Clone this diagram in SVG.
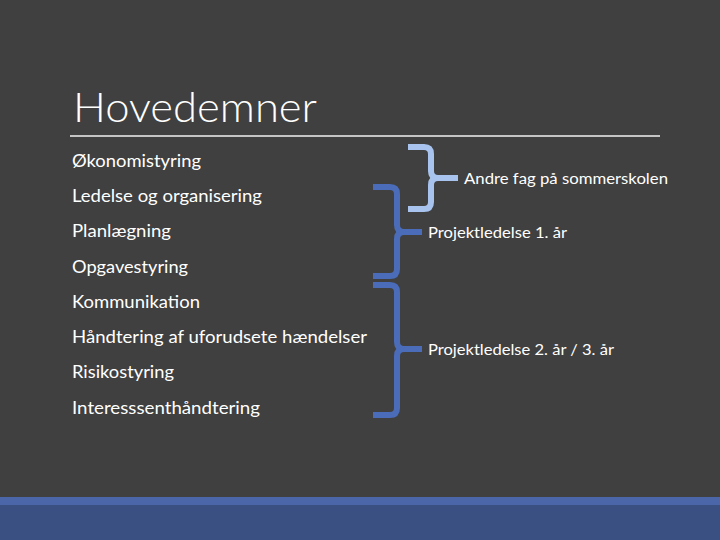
<svg xmlns="http://www.w3.org/2000/svg" width="720" height="540" viewBox="0 0 720 540">
<style>
.t{font-family:Lato,"Open Sans","Liberation Sans",sans-serif;fill:#ffffff}
.item{font-size:18px}
.lbl{font-size:15.5px}
.br{fill:none;stroke-width:6;stroke-linejoin:round;stroke-linecap:butt}
.light{stroke:#a8c4ee}
.dark{stroke:#4a6cb9}
</style>
<rect width="720" height="540" fill="#404040"/>
<rect x="0" y="497" width="720" height="8" fill="#4b67aa"/>
<rect x="0" y="505" width="720" height="35" fill="#3a5082"/>
<g id="title">
<text class="t" x="73" y="122" font-size="42" font-weight="300" textLength="244" lengthAdjust="spacingAndGlyphs">Hovedemner</text>
<line x1="70" y1="136" x2="660" y2="136" stroke="#f2f2f2" stroke-width="1.3"/>
</g>
<g id="items">
<text class="t item" x="72" y="167" textLength="129" lengthAdjust="spacingAndGlyphs">Økonomistyring</text>
<text class="t item" x="72" y="202" textLength="190" lengthAdjust="spacingAndGlyphs">Ledelse og organisering</text>
<text class="t item" x="72" y="237" textLength="99" lengthAdjust="spacingAndGlyphs">Planlægning</text>
<text class="t item" x="72" y="273" textLength="116" lengthAdjust="spacingAndGlyphs">Opgavestyring</text>
<text class="t item" x="72" y="308" textLength="128" lengthAdjust="spacingAndGlyphs">Kommunikation</text>
<text class="t item" x="72" y="343" textLength="295" lengthAdjust="spacingAndGlyphs">Håndtering af uforudsete hændelser</text>
<text class="t item" x="72" y="378" textLength="102" lengthAdjust="spacingAndGlyphs">Risikostyring</text>
<text class="t item" x="72" y="414" textLength="188" lengthAdjust="spacingAndGlyphs">Interesssenthåndtering</text>
</g>
<g id="connectors">
<path class="br light" d="M408 147 H424 Q431 147 431 154 V171 Q431 178 438 178 H458 M438 178 Q431 178 431 185 V202 Q431 209 424 209 H408"/>
<path class="br dark" d="M373 187 H390 Q397 187 397 194 V225 Q397 232 404 232 H422 M404 232 Q397 232 397 239 V269 Q397 276 390 276 H373"/>
<path class="br dark" d="M373 285 H390 Q397 285 397 292 V342 Q397 349 404 349 H422 M404 349 Q397 349 397 356 V408 Q397 415 390 415 H373"/>
</g>
<g id="label-andre">
<text class="t lbl" x="464" y="184" textLength="204" lengthAdjust="spacingAndGlyphs">Andre fag på sommerskolen</text>
</g>
<g id="label-pl1">
<text class="t lbl" x="428" y="238" textLength="139" lengthAdjust="spacingAndGlyphs">Projektledelse 1. år</text>
</g>
<g id="label-pl2">
<text class="t lbl" x="428" y="355" textLength="186" lengthAdjust="spacingAndGlyphs">Projektledelse 2. år / 3. år</text>
</g>
</svg>
